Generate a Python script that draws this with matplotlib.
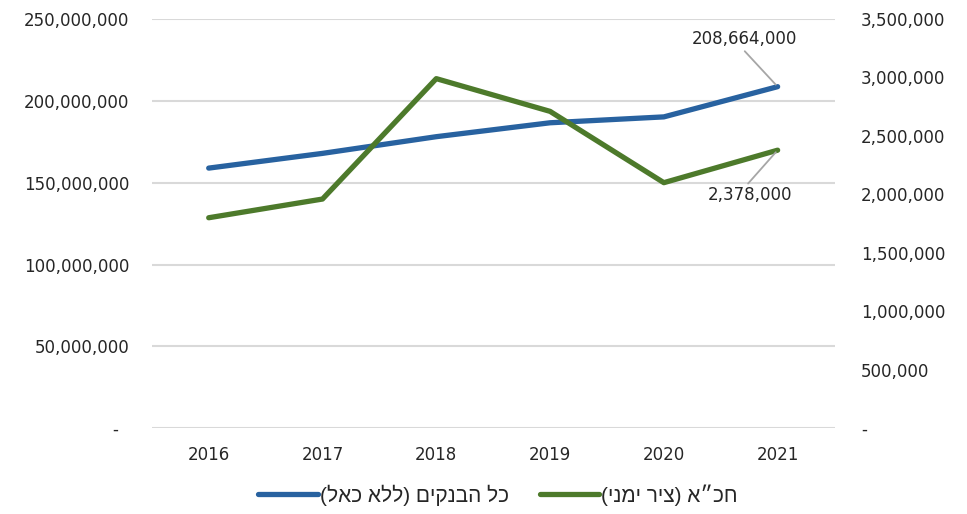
import matplotlib
matplotlib.use("Agg")
import matplotlib.pyplot as plt
from matplotlib.ticker import FuncFormatter, MultipleLocator

years = ["2016", "2017", "2018", "2019", "2020", "2021"]
banks = [158_900_000, 167_900_000, 178_100_000, 186_600_000, 190_200_000, 208_664_000]
hachva = [1_800_000, 1_960_000, 2_990_000, 2_710_000, 2_100_000, 2_378_000]
banks_label = "כל הבנקים (ללא כאל)"
hachva_label = "חכ״א (ציר ימני)"

blue = "#2862A0"
green = "#4D7A2B"
text_col = "#262626"


def visual(s):
    # matplotlib draws left to right, so put the Hebrew in visual order
    swap = {"(": ")", ")": "("}
    return "".join(swap.get(c, c) for c in reversed(s))


def left_fmt(v, pos):
    return "-  " if v == 0 else f"{v:,.0f}"


def right_fmt(v, pos):
    return "-" if v == 0 else f"{v:,.0f}"


plt.rcParams["font.family"] = ["DejaVu Sans"]

fig = plt.figure(figsize=(9.67, 5.14), dpi=100)
ax = fig.add_axes([0.157, 0.167, 0.706, 0.796])
ax2 = ax.twinx()

x = list(range(len(years)))
l1, = ax.plot(x, banks, color=blue, lw=3.8, solid_capstyle="round",
              solid_joinstyle="round", label=visual(banks_label))
l2, = ax2.plot(x, hachva, color=green, lw=3.8, solid_capstyle="round",
               solid_joinstyle="round", label=visual(hachva_label))

ax.set_xlim(-0.5, 5.5)
ax.set_ylim(0, 250_000_000)
ax2.set_ylim(0, 3_500_000)
ax.yaxis.set_major_locator(MultipleLocator(50_000_000))
ax2.yaxis.set_major_locator(MultipleLocator(500_000))
ax.yaxis.set_major_formatter(FuncFormatter(left_fmt))
ax2.yaxis.set_major_formatter(FuncFormatter(right_fmt))
ax.set_xticks(x)
ax.set_xticklabels(years)

ax.grid(axis="y", color="#D9D9D9", lw=1.5)
ax.set_axisbelow(True)
for a in (ax, ax2):
    for s in a.spines.values():
        s.set_visible(False)
ax.tick_params(axis="y", length=0, labelsize=12, labelcolor=text_col, pad=16)
ax.tick_params(axis="x", length=0, labelsize=12, labelcolor=text_col, pad=13)
ax2.tick_params(axis="y", length=0, labelsize=12, labelcolor=text_col, pad=19)

ax.annotate(f"{banks[-1]:,}", xy=(x[-1], banks[-1]), xytext=(-24, 34),
            textcoords="offset points", ha="center", va="center",
            fontsize=12, color=text_col,
            arrowprops=dict(arrowstyle="-", color="#A6A6A6", lw=1.3,
                            relpos=(0.48, 0), shrinkA=0, shrinkB=2))
ax2.annotate(f"{hachva[-1]:,}", xy=(x[-1], hachva[-1]), xytext=(-20, -32.5),
             textcoords="offset points", ha="center", va="center",
             fontsize=12, color=text_col,
             arrowprops=dict(arrowstyle="-", color="#A6A6A6", lw=1.3,
                             relpos=(0.45, 1), shrinkA=0, shrinkB=2))

fig.legend(handles=[l1, l2], loc="center", bbox_to_anchor=(0.515, 0.037),
           ncol=2, frameon=False, handlelength=2.85, handletextpad=0.1,
           columnspacing=1.5, labelcolor=text_col,
           prop={"family": ["Liberation Sans", "DejaVu Sans"], "size": 15})

fig.savefig("out.png", dpi=100)
